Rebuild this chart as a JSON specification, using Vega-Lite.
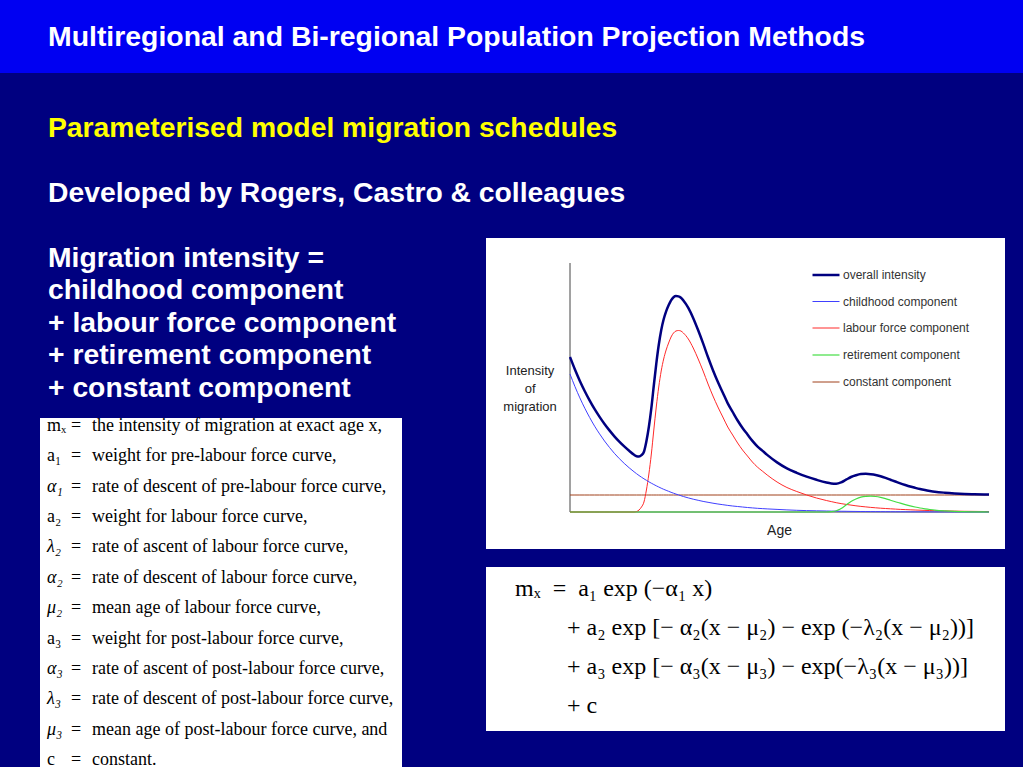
{
  "$schema": "https://vega.github.io/schema/vega-lite/v6.json",
  "background": "#000080",
  "padding": 0,
  "bounds": "flush",
  "spacing": 0,
  "resolve": {"scale": {"color": "independent", "strokeWidth": "independent"}, "legend": {"color": "independent", "strokeWidth": "independent"}},
  "config": {"view": {"stroke": null}},
  "datasets": {
    "intro": [
      {"line": 0, "text": "Migration intensity ="},
      {"line": 1, "text": "childhood component"},
      {"line": 2, "text": "+ labour force component"},
      {"line": 3, "text": "+ retirement component"},
      {"line": 4, "text": "+ constant component"}
    ],
    "defs": [
      {"i": 0, "sym": "mₓ", "desc": "the intensity of migration at exact age x,"},
      {"i": 1, "sym": "a₁", "desc": "weight for pre-labour force curve,"},
      {"i": 2, "sym": "α₁", "desc": "rate of descent of pre-labour force curve,"},
      {"i": 3, "sym": "a₂", "desc": "weight for labour force curve,"},
      {"i": 4, "sym": "λ₂", "desc": "rate of ascent of labour force curve,"},
      {"i": 5, "sym": "α₂", "desc": "rate of descent of labour force curve,"},
      {"i": 6, "sym": "μ₂", "desc": "mean age of labour force curve,"},
      {"i": 7, "sym": "a₃", "desc": "weight for post-labour force curve,"},
      {"i": 8, "sym": "α₃", "desc": "rate of ascent of post-labour force curve,"},
      {"i": 9, "sym": "λ₃", "desc": "rate of descent of post-labour force curve,"},
      {"i": 10, "sym": "μ₃", "desc": "mean age of post-labour force curve, and"},
      {"i": 11, "sym": "c", "desc": "constant."}
    ],
    "formula": [
      {"line": 0, "text": "mₓ\u00a0\u00a0=\u00a0\u00a0a₁ exp (−α₁ x)"},
      {"line": 1, "text": "+ a₂ exp [− α₂(x − μ₂) − exp (−λ₂(x − μ₂))]"},
      {"line": 2, "text": "+ a₃ exp [− α₃(x − μ₃) − exp(−λ₃(x − μ₃))]"},
      {"line": 3, "text": "+ c"}
    ],
    "schedule": [
      {"age": 0, "overall": 155, "childhood": 138, "labour": 0, "retirement": 0, "constant": 17},
      {"age": 1, "overall": 142.5, "childhood": 125.5, "labour": 0, "retirement": 0, "constant": 17},
      {"age": 2, "overall": 131.1, "childhood": 114.1, "labour": 0, "retirement": 0, "constant": 17},
      {"age": 3, "overall": 120.8, "childhood": 103.8, "labour": 0, "retirement": 0, "constant": 17},
      {"age": 4, "overall": 111.4, "childhood": 94.4, "labour": 0, "retirement": 0, "constant": 17},
      {"age": 5, "overall": 102.8, "childhood": 85.8, "labour": 0, "retirement": 0, "constant": 17},
      {"age": 6, "overall": 95.1, "childhood": 78.1, "labour": 0, "retirement": 0, "constant": 17},
      {"age": 7, "overall": 88.0, "childhood": 71.0, "labour": 0, "retirement": 0, "constant": 17},
      {"age": 8, "overall": 81.6, "childhood": 64.6, "labour": 0, "retirement": 0, "constant": 17},
      {"age": 9, "overall": 75.7, "childhood": 58.7, "labour": 0, "retirement": 0, "constant": 17},
      {"age": 10, "overall": 70.4, "childhood": 53.4, "labour": 0, "retirement": 0, "constant": 17},
      {"age": 11, "overall": 65.6, "childhood": 48.6, "labour": 0, "retirement": 0, "constant": 17},
      {"age": 12, "overall": 61.2, "childhood": 44.2, "labour": 0, "retirement": 0, "constant": 17},
      {"age": 13, "overall": 57.2, "childhood": 40.2, "labour": 0, "retirement": 0, "constant": 17},
      {"age": 13.5, "overall": 55.8, "childhood": 38.3, "labour": 0.5, "retirement": 0, "constant": 17},
      {"age": 14, "overall": 55.5, "childhood": 36.5, "labour": 2, "retirement": 0, "constant": 17},
      {"age": 14.5, "overall": 56.8, "childhood": 34.8, "labour": 5, "retirement": 0, "constant": 17},
      {"age": 15, "overall": 60.2, "childhood": 33.2, "labour": 10, "retirement": 0, "constant": 17},
      {"age": 15.5, "overall": 70.7, "childhood": 31.7, "labour": 22, "retirement": 0, "constant": 17},
      {"age": 16, "overall": 85.2, "childhood": 30.2, "labour": 38, "retirement": 0, "constant": 17},
      {"age": 16.5, "overall": 103.8, "childhood": 28.8, "labour": 58, "retirement": 0, "constant": 17},
      {"age": 17, "overall": 126.5, "childhood": 27.5, "labour": 82, "retirement": 0, "constant": 17},
      {"age": 17.5, "overall": 148.2, "childhood": 26.2, "labour": 105, "retirement": 0, "constant": 17},
      {"age": 18, "overall": 167, "childhood": 25, "labour": 125, "retirement": 0, "constant": 17},
      {"age": 18.5, "overall": 181.8, "childhood": 23.8, "labour": 141, "retirement": 0, "constant": 17},
      {"age": 19, "overall": 192.7, "childhood": 22.7, "labour": 153, "retirement": 0, "constant": 17},
      {"age": 19.5, "overall": 200.7, "childhood": 21.7, "labour": 162, "retirement": 0, "constant": 17},
      {"age": 20, "overall": 206.7, "childhood": 20.7, "labour": 169, "retirement": 0, "constant": 17},
      {"age": 20.5, "overall": 211.7, "childhood": 19.7, "labour": 175, "retirement": 0, "constant": 17},
      {"age": 21, "overall": 214.8, "childhood": 18.8, "labour": 179, "retirement": 0, "constant": 17},
      {"age": 21.5, "overall": 215.9, "childhood": 17.9, "labour": 181, "retirement": 0, "constant": 17},
      {"age": 22, "overall": 215.6, "childhood": 17.1, "labour": 181.5, "retirement": 0, "constant": 17},
      {"age": 22.5, "overall": 214.3, "childhood": 16.3, "labour": 181, "retirement": 0, "constant": 17},
      {"age": 23, "overall": 211.5, "childhood": 15.5, "labour": 179, "retirement": 0, "constant": 17},
      {"age": 24, "overall": 204.1, "childhood": 14.1, "labour": 173, "retirement": 0, "constant": 17},
      {"age": 25, "overall": 193.8, "childhood": 12.8, "labour": 164, "retirement": 0, "constant": 17},
      {"age": 26, "overall": 181.7, "childhood": 11.7, "labour": 153, "retirement": 0, "constant": 17},
      {"age": 27, "overall": 168.6, "childhood": 10.6, "labour": 141, "retirement": 0, "constant": 17},
      {"age": 28, "overall": 154.7, "childhood": 9.7, "labour": 128, "retirement": 0, "constant": 17},
      {"age": 29, "overall": 141.8, "childhood": 8.8, "labour": 116, "retirement": 0, "constant": 17},
      {"age": 30, "overall": 130, "childhood": 8, "labour": 105, "retirement": 0, "constant": 17},
      {"age": 31, "overall": 119.3, "childhood": 7.3, "labour": 95, "retirement": 0, "constant": 17},
      {"age": 32, "overall": 108.6, "childhood": 6.6, "labour": 85, "retirement": 0, "constant": 17},
      {"age": 33, "overall": 100, "childhood": 6, "labour": 77, "retirement": 0, "constant": 17},
      {"age": 34, "overall": 91.5, "childhood": 5.5, "labour": 69, "retirement": 0, "constant": 17},
      {"age": 35, "overall": 84, "childhood": 5, "labour": 62, "retirement": 0, "constant": 17},
      {"age": 36, "overall": 77.5, "childhood": 4.5, "labour": 56, "retirement": 0, "constant": 17},
      {"age": 37, "overall": 71.1, "childhood": 4.1, "labour": 50, "retirement": 0, "constant": 17},
      {"age": 38, "overall": 65.7, "childhood": 3.7, "labour": 45, "retirement": 0, "constant": 17},
      {"age": 39, "overall": 61.4, "childhood": 3.4, "labour": 41, "retirement": 0, "constant": 17},
      {"age": 40, "overall": 57.1, "childhood": 3.1, "labour": 37, "retirement": 0, "constant": 17},
      {"age": 42, "overall": 49.6, "childhood": 2.6, "labour": 30, "retirement": 0, "constant": 17},
      {"age": 44, "overall": 43.6, "childhood": 2.1, "labour": 24.5, "retirement": 0, "constant": 17},
      {"age": 46, "overall": 39.2, "childhood": 1.7, "labour": 20.5, "retirement": 0, "constant": 17},
      {"age": 48, "overall": 35.4, "childhood": 1.4, "labour": 17, "retirement": 0, "constant": 17},
      {"age": 50, "overall": 32.2, "childhood": 1.2, "labour": 14, "retirement": 0, "constant": 17},
      {"age": 52, "overall": 29.5, "childhood": 1, "labour": 11.5, "retirement": 0, "constant": 17},
      {"age": 53, "overall": 28.6, "childhood": 0.9, "labour": 10.4, "retirement": 0.3, "constant": 17},
      {"age": 54, "overall": 28.3, "childhood": 0.8, "labour": 9.3, "retirement": 1.2, "constant": 17},
      {"age": 55, "overall": 29.65, "childhood": 0.75, "labour": 8.4, "retirement": 3.5, "constant": 17},
      {"age": 56, "overall": 32.3, "childhood": 0.7, "labour": 7.6, "retirement": 7, "constant": 17},
      {"age": 57, "overall": 35, "childhood": 0.6, "labour": 6.9, "retirement": 10.5, "constant": 17},
      {"age": 58, "overall": 36.75, "childhood": 0.55, "labour": 6.2, "retirement": 13, "constant": 17},
      {"age": 59, "overall": 37.9, "childhood": 0.5, "labour": 5.6, "retirement": 14.8, "constant": 17},
      {"age": 60, "overall": 38.16, "childhood": 0.46, "labour": 5.1, "retirement": 15.6, "constant": 17},
      {"age": 61, "overall": 37.82, "childhood": 0.42, "labour": 4.6, "retirement": 15.8, "constant": 17},
      {"age": 62, "overall": 37.08, "childhood": 0.38, "labour": 4.2, "retirement": 15.5, "constant": 17},
      {"age": 63, "overall": 35.75, "childhood": 0.35, "labour": 3.8, "retirement": 14.6, "constant": 17},
      {"age": 64, "overall": 34.12, "childhood": 0.32, "labour": 3.5, "retirement": 13.3, "constant": 17},
      {"age": 65, "overall": 32.29, "childhood": 0.29, "labour": 3.2, "retirement": 11.8, "constant": 17},
      {"age": 66, "overall": 30.46, "childhood": 0.26, "labour": 2.9, "retirement": 10.3, "constant": 17},
      {"age": 67, "overall": 28.64, "childhood": 0.24, "labour": 2.6, "retirement": 8.8, "constant": 17},
      {"age": 68, "overall": 27.02, "childhood": 0.22, "labour": 2.4, "retirement": 7.4, "constant": 17},
      {"age": 69, "overall": 25.5, "childhood": 0.2, "labour": 2.2, "retirement": 6.1, "constant": 17},
      {"age": 70, "overall": 24.18, "childhood": 0.18, "labour": 2, "retirement": 5, "constant": 17},
      {"age": 71, "overall": 22.96, "childhood": 0.16, "labour": 1.8, "retirement": 4, "constant": 17},
      {"age": 72, "overall": 21.95, "childhood": 0.15, "labour": 1.6, "retirement": 3.2, "constant": 17},
      {"age": 73, "overall": 21.09, "childhood": 0.14, "labour": 1.45, "retirement": 2.5, "constant": 17},
      {"age": 74, "overall": 20.32, "childhood": 0.12, "labour": 1.3, "retirement": 1.9, "constant": 17},
      {"age": 76, "overall": 19.3, "childhood": 0.1, "labour": 1.1, "retirement": 1.1, "constant": 17},
      {"age": 78, "overall": 18.58, "childhood": 0.08, "labour": 0.9, "retirement": 0.6, "constant": 17},
      {"age": 80, "overall": 18.07, "childhood": 0.07, "labour": 0.7, "retirement": 0.3, "constant": 17},
      {"age": 82, "overall": 17.81, "childhood": 0.06, "labour": 0.6, "retirement": 0.15, "constant": 17},
      {"age": 84, "overall": 17.6, "childhood": 0.05, "labour": 0.5, "retirement": 0.05, "constant": 17},
      {"age": 85, "overall": 17.44, "childhood": 0.04, "labour": 0.4, "retirement": 0, "constant": 17}
    ]
  },
  "vconcat": [
    {
      "width": 1023,
      "height": 73,
      "view": {"fill": "#0000F2", "stroke": null},
      "data": {"values": [{"text": "Multiregional and Bi-regional Population Projection Methods"}]},
      "mark": {"type": "text", "align": "left", "baseline": "alphabetic", "font": "Liberation Sans", "fontWeight": "bold", "fontSize": 28.4, "fill": "#FFFFFF"},
      "encoding": {
        "text": {"field": "text"},
        "x": {"datum": 48, "type": "quantitative", "scale": {"domain": [0, 1023], "nice": false, "zero": false}, "axis": null},
        "y": {"datum": 46, "type": "quantitative", "scale": {"domain": [0, 73], "nice": false, "zero": false, "reverse": true}, "axis": null}
      }
    },
    {
      "width": 1023,
      "height": 165,
      "data": {"values": [
        {"line": 0, "role": "topic", "text": "Parameterised model migration schedules"},
        {"line": 1, "role": "credit", "text": "Developed by Rogers, Castro & colleagues"}
      ]},
      "mark": {"type": "text", "align": "left", "baseline": "alphabetic", "font": "Liberation Sans", "fontWeight": "bold", "fontSize": 28.3},
      "encoding": {
        "text": {"field": "text"},
        "x": {"datum": 48, "type": "quantitative", "scale": {"domain": [0, 1023], "nice": false, "zero": false}, "axis": null},
        "y": {"field": "line", "type": "quantitative", "scale": {"domain": [-0.9846, 1.5538], "nice": false, "zero": false, "reverse": true}, "axis": null},
        "color": {"field": "role", "type": "nominal", "scale": {"domain": ["topic", "credit"], "range": ["#FFFF00", "#FFFFFF"]}, "legend": null}
      }
    },
    {
      "resolve": {"scale": {"color": "independent", "strokeWidth": "independent"}, "legend": {"color": "independent", "strokeWidth": "independent"}},
      "hconcat": [
        {
          "width": 486,
          "height": 529,
          "resolve": {"scale": {"x": "independent", "y": "independent"}},
          "layer": [
            {
              "data": {"values": [{"box": "definitions"}]},
              "mark": {"type": "rect", "fill": "#FFFFFF"},
              "encoding": {
                "x": {"datum": 40, "type": "quantitative", "scale": {"domain": [0, 486], "nice": false, "zero": false}, "axis": null},
                "x2": {"datum": 402},
                "y": {"datum": 180, "type": "quantitative", "scale": {"domain": [0, 529], "nice": false, "zero": false, "reverse": true}, "axis": null},
                "y2": {"datum": 529}
              }
            },
            {
              "data": {"name": "intro"},
              "mark": {"type": "text", "align": "left", "baseline": "alphabetic", "font": "Liberation Sans", "fontWeight": "bold", "fontSize": 28.3, "fill": "#FFFFFF"},
              "encoding": {
                "text": {"field": "text"},
                "x": {"datum": 48, "type": "quantitative", "scale": {"domain": [0, 486], "nice": false, "zero": false}, "axis": null},
                "y": {"field": "line", "type": "quantitative", "scale": {"domain": [-0.8923, 15.3846], "nice": false, "zero": false, "reverse": true}, "axis": null}
              }
            },
            {
              "data": {"name": "defs"},
              "transform": [{"filter": "!test(/[αλμ]/, datum.sym)"}],
              "mark": {"type": "text", "align": "left", "baseline": "alphabetic", "font": "Liberation Serif", "fontSize": 18, "fill": "#000000"},
              "encoding": {
                "text": {"field": "sym"},
                "x": {"datum": 47, "type": "quantitative", "scale": {"domain": [0, 486], "nice": false, "zero": false}, "axis": null},
                "y": {"field": "i", "type": "quantitative", "scale": {"domain": [-6.357, 11.067], "nice": false, "zero": false, "reverse": true}, "axis": null}
              }
            },
            {
              "data": {"name": "defs"},
              "transform": [{"filter": "test(/[αλμ]/, datum.sym)"}],
              "mark": {"type": "text", "align": "left", "baseline": "alphabetic", "font": "Liberation Serif", "fontStyle": "italic", "fontSize": 18, "fill": "#000000"},
              "encoding": {
                "text": {"field": "sym"},
                "x": {"datum": 47, "type": "quantitative", "scale": {"domain": [0, 486], "nice": false, "zero": false}, "axis": null},
                "y": {"field": "i", "type": "quantitative", "scale": {"domain": [-6.357, 11.067], "nice": false, "zero": false, "reverse": true}, "axis": null}
              }
            },
            {
              "data": {"name": "defs"},
              "mark": {"type": "text", "align": "left", "baseline": "alphabetic", "font": "Liberation Serif", "fontSize": 18, "fill": "#000000"},
              "encoding": {
                "text": {"value": "="},
                "x": {"datum": 71, "type": "quantitative", "scale": {"domain": [0, 486], "nice": false, "zero": false}, "axis": null},
                "y": {"field": "i", "type": "quantitative", "scale": {"domain": [-6.357, 11.067], "nice": false, "zero": false, "reverse": true}, "axis": null}
              }
            },
            {
              "data": {"name": "defs"},
              "mark": {"type": "text", "align": "left", "baseline": "alphabetic", "font": "Liberation Serif", "fontSize": 18, "fill": "#000000"},
              "encoding": {
                "text": {"field": "desc"},
                "x": {"datum": 92, "type": "quantitative", "scale": {"domain": [0, 486], "nice": false, "zero": false}, "axis": null},
                "y": {"field": "i", "type": "quantitative", "scale": {"domain": [-6.357, 11.067], "nice": false, "zero": false, "reverse": true}, "axis": null}
              }
            }
          ]
        },
        {
          "resolve": {"scale": {"color": "independent", "strokeWidth": "independent"}, "legend": {"color": "independent", "strokeWidth": "independent"}},
          "vconcat": [
            {
              "width": 519,
              "height": 311,
              "view": {"fill": "#FFFFFF", "stroke": null},
              "encoding": {
                "x": {"type": "quantitative", "scale": {"domain": [-17.04, 88.24], "nice": false, "zero": false}, "axis": null},
                "y": {"type": "quantitative", "scale": {"domain": [-37, 274], "nice": false, "zero": false}, "axis": null}
              },
              "layer": [
                {
                  "data": {"values": [{"axis": "intensity"}]},
                  "mark": {"type": "rule", "color": "#444444", "strokeWidth": 1},
                  "encoding": {"x": {"datum": 0}, "y": {"datum": 0}, "y2": {"datum": 249}}
                },
                {
                  "data": {"values": [{"axis": "age"}]},
                  "mark": {"type": "rule", "color": "#444444", "strokeWidth": 1},
                  "encoding": {"x": {"datum": 0}, "x2": {"datum": 85}, "y": {"datum": 0}}
                },
                {
                  "data": {"name": "schedule"},
                  "transform": [{"fold": ["constant", "labour", "childhood", "retirement", "overall"], "as": ["series", "intensity"]}],
                  "mark": {"type": "line", "interpolate": "monotone"},
                  "encoding": {
                    "x": {"field": "age"},
                    "y": {"field": "intensity"},
                    "color": {
                      "field": "series", "type": "nominal",
                      "scale": {"domain": ["overall", "childhood", "labour", "retirement", "constant"], "range": ["#000080", "#4040FF", "#FF2A2A", "#44DD44", "#A0401A"]},
                      "legend": {"orient": "none", "legendX": 325, "legendY": 22, "title": null, "symbolType": "stroke", "symbolSize": 729, "labelFont": "Liberation Sans", "labelFontSize": 12, "labelColor": "#333333", "rowPadding": 6.5, "padding": 0, "labelOffset": 2,
                        "labelExpr": "datum.label == 'overall' ? 'overall intensity' : datum.label == 'labour' ? 'labour force component' : datum.label + ' component'"}
                    },
                    "strokeWidth": {
                      "field": "series", "type": "nominal",
                      "scale": {"type": "ordinal", "domain": ["overall", "childhood", "labour", "retirement", "constant"], "range": [2.5, 1, 1, 1.2, 1]},
                      "legend": {"orient": "none", "legendX": 325, "legendY": 22, "title": null, "symbolType": "stroke", "symbolSize": 729, "labelFont": "Liberation Sans", "labelFontSize": 12, "labelColor": "#333333", "rowPadding": 6.5, "padding": 0, "labelOffset": 2,
                        "labelExpr": "datum.label == 'overall' ? 'overall intensity' : datum.label == 'labour' ? 'labour force component' : datum.label + ' component'"}
                    }
                  }
                },
                {
                  "data": {"values": [{"label": "Intensity\nof\nmigration"}]},
                  "mark": {"type": "text", "align": "center", "baseline": "middle", "lineBreak": "\n", "lineHeight": 18, "font": "Liberation Sans", "fontSize": 13, "fill": "#222222"},
                  "encoding": {"text": {"field": "label"}, "x": {"datum": -8.1}, "y": {"datum": 141.3}}
                },
                {
                  "data": {"values": [{"label": "Age"}]},
                  "mark": {"type": "text", "align": "center", "baseline": "middle", "font": "Liberation Sans", "fontSize": 14, "fill": "#222222"},
                  "encoding": {"text": {"field": "label"}, "x": {"datum": 42.5}, "y": {"datum": -18.7}}
                }
              ]
            },
            {
              "width": 519,
              "height": 164,
              "view": {"fill": "#FFFFFF", "stroke": null},
              "layer": [
                {
                  "data": {"name": "formula"},
                  "transform": [{"filter": "datum.line == 0"}],
                  "mark": {"type": "text", "align": "left", "baseline": "alphabetic", "font": "Liberation Serif", "fontSize": 24, "fill": "#000000"},
                  "encoding": {
                    "text": {"field": "text"},
                    "x": {"datum": 29, "type": "quantitative", "scale": {"domain": [0, 519], "nice": false, "zero": false}, "axis": null},
                    "y": {"field": "line", "type": "quantitative", "scale": {"domain": [-0.7436, 3.4615], "nice": false, "zero": false, "reverse": true}, "axis": null}
                  }
                },
                {
                  "data": {"name": "formula"},
                  "transform": [{"filter": "datum.line > 0"}],
                  "mark": {"type": "text", "align": "left", "baseline": "alphabetic", "font": "Liberation Serif", "fontSize": 24, "fill": "#000000"},
                  "encoding": {
                    "text": {"field": "text"},
                    "x": {"datum": 81, "type": "quantitative", "scale": {"domain": [0, 519], "nice": false, "zero": false}, "axis": null},
                    "y": {"field": "line", "type": "quantitative", "scale": {"domain": [-0.7436, 3.4615], "nice": false, "zero": false, "reverse": true}, "axis": null}
                  }
                }
              ]
            }
          ],
          "spacing": 18,
          "bounds": "flush"
        }
      ],
      "spacing": 0,
      "bounds": "flush"
    }
  ]
}
